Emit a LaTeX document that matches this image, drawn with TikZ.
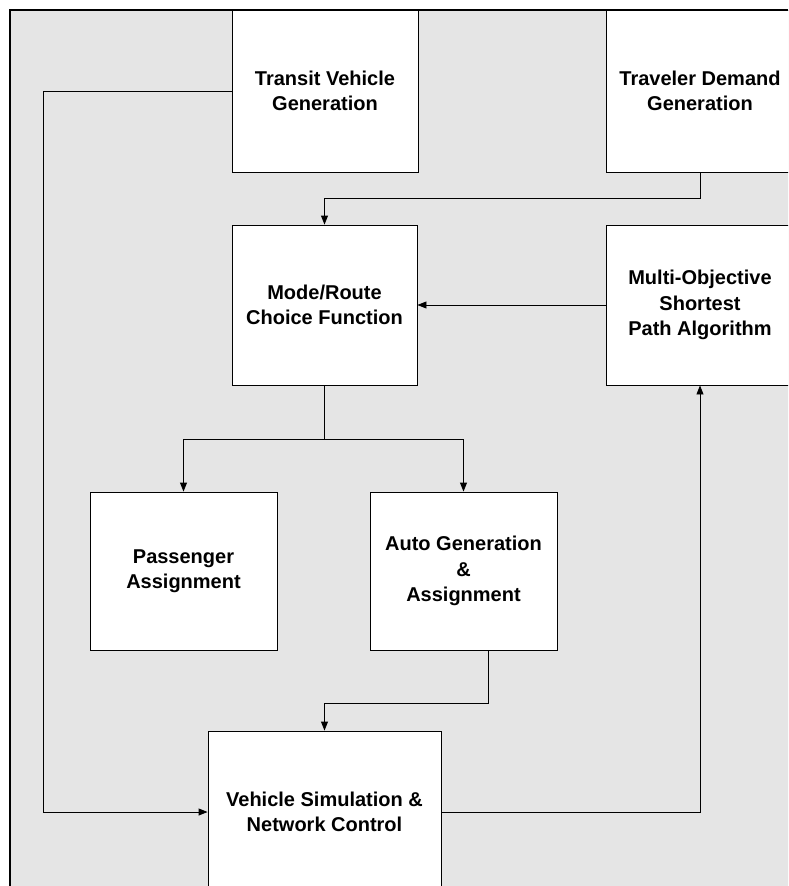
\documentclass[tikz,border=0pt]{standalone}
\usepackage{fontspec}
\setmainfont{Liberation Sans}
\usetikzlibrary{arrows.meta,calc}
\definecolor{bgspeckle}{gray}{0.9}
\begin{document}
\begin{tikzpicture}[x=1pt,y=-1pt,
  blk/.style={draw=black,line width=0.9pt,fill=white,align=center,
    font=\fontsize{20}{25.5}\selectfont\bfseries,inner sep=0pt},
  arr/.style={draw=black,line width=0.9pt,-{Triangle[length=9pt,width=7pt]}},
  lnk/.style={draw=black,line width=0.9pt}]
\useasboundingbox (0,0) rectangle (788,886);
\begin{scope}
\clip (0,0) rectangle (788,886);
\fill[bgspeckle] (10,10) rectangle (800,900);
\node[blk,minimum width=186pt,minimum height=162pt] (tv) at (325,91) {Transit Vehicle\\Generation};
\node[blk,minimum width=188pt,minimum height=162pt] (td) at (700,91) {Traveler Demand\\Generation};
\node[blk,minimum width=185pt,minimum height=160pt] (mr) at (324.5,305) {Mode/Route\\Choice Function};
\node[blk,minimum width=188pt,minimum height=160pt] (mo) at (700,305) {Multi-Objective\\Shortest\\Path Algorithm};
\node[blk,minimum width=187pt,minimum height=158pt] (pa) at (183.5,571) {Passenger\\Assignment};
\node[blk,minimum width=187pt,minimum height=158pt] (ag) at (463.5,571) {Auto Generation\\\&\\Assignment};
\node[blk,minimum width=233pt,minimum height=162pt] (vs) at (324.5,812) {Vehicle Simulation \&\\Network Control};
\end{scope}
\draw[line width=2pt] (10,886) -- (10,10) -- (788,10);
% connectors
\draw[arr] (tv.west) -- ++(-188,0) coordinate (lft) |- (vs.west);
\draw[arr] (td.south) -- ++(0,26) coordinate (tdb) -| (mr.north);
\draw[arr] (mo.west) -- (mr.east);
\draw[lnk] (mr.south) -- ++(0,54) coordinate (br);
\draw[arr] (br) -| (pa.north);
\draw[arr] (br) -| (ag.north);
\draw[arr] ([xshift=24.5pt]ag.south) -- ++(0,53) coordinate (agb) -| (vs.north);
\draw[arr] (vs.east) -| (mo.south);
\end{tikzpicture}
\end{document}
